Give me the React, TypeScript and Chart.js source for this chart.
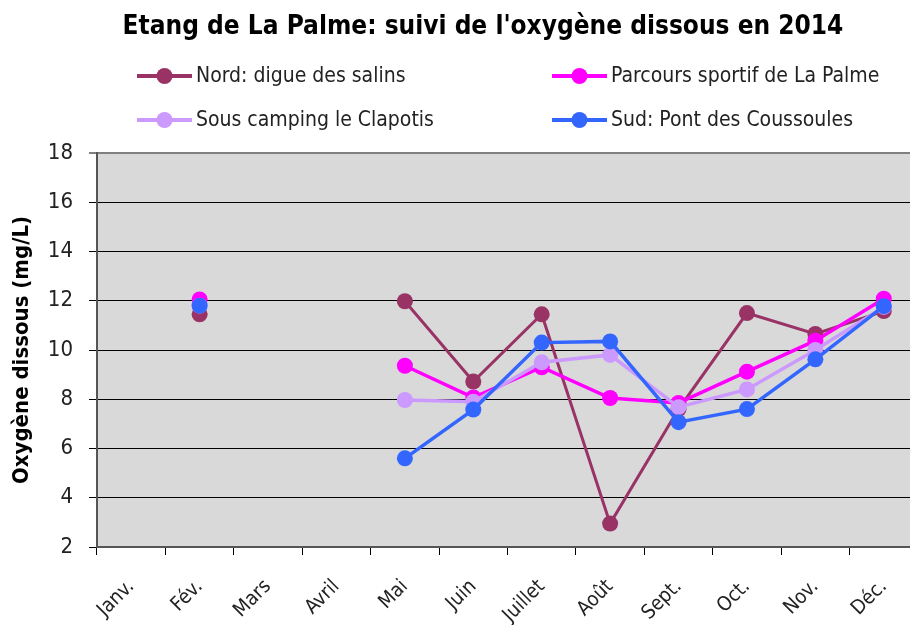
import React, { useEffect, useRef } from "react";
import { Chart, registerables } from "chart.js";

Chart.register(...registerables);

const chartTitle = "Etang de La Palme: suivi de l'oxygène dissous en 2014";
const yAxisTitle = "Oxygène dissous (mg/L)";
const months = ["Janv.", "Fév.", "Mars", "Avril", "Mai", "Juin", "Juillet", "Août", "Sept.", "Oct.", "Nov.", "Déc."];
const seriesNames = ["Nord: digue des salins", "Parcours sportif de La Palme", "Sous camping le Clapotis", "Sud: Pont des Coussoules"];
const seriesColors = ["#993366", "#FF00FF", "#CC99FF", "#3366FF"];
const nord = [null, 11.45, null, null, 11.98, 8.72, 11.45, 2.95, 7.6, 11.5, 10.65, 11.58];
const parcours = [null, 12.05, null, null, 9.36, 8.07, 9.3, 8.05, 7.85, 9.12, 10.38, 12.08];
const camping = [null, 11.8, null, null, 7.97, 7.9, 9.5, 9.8, 7.68, 8.4, 10.0, 11.75];
const sud = [null, 11.8, null, null, 5.6, 7.58, 10.3, 10.35, 7.07, 7.6, 9.62, 11.78];
const yMin = 2;
const yMax = 18;
const yStep = 2;

const narrow = "'DejaVu Sans Condensed', 'Liberation Sans Narrow', sans-serif";

const bgPlugin = {
  id: "plotBg",
  beforeDraw(chart: any) {
    const { ctx, chartArea } = chart;
    ctx.save();
    ctx.fillStyle = "#D9D9D9";
    ctx.fillRect(chartArea.left, chartArea.top, chartArea.right - chartArea.left, chartArea.bottom - chartArea.top);
    ctx.restore();
  },
};

const headerPlugin = {
  id: "header",
  afterDraw(chart: any) {
    const { ctx } = chart;
    ctx.save();
    ctx.fillStyle = "#000";
    ctx.font = `bold 26px ${narrow}`;
    ctx.textAlign = "center";
    ctx.textBaseline = "middle";
    ctx.fillText(chartTitle, 483, 27);

    const cols = [137, 552];
    const rows = [76, 120];
    chart.data.datasets.forEach((ds: any, i: number) => {
      const x0 = cols[i % 2];
      const y = rows[Math.floor(i / 2)];
      ctx.strokeStyle = ds.borderColor;
      ctx.lineWidth = 4;
      ctx.beginPath();
      ctx.moveTo(x0, y);
      ctx.lineTo(x0 + 55, y);
      ctx.stroke();
      ctx.fillStyle = ds.borderColor;
      ctx.beginPath();
      ctx.arc(x0 + 27.5, y, 8, 0, Math.PI * 2);
      ctx.fill();
      ctx.fillStyle = "#222";
      ctx.font = `21px ${narrow}`;
      ctx.textAlign = "left";
      ctx.textBaseline = "middle";
      ctx.fillText(ds.label, x0 + 59, y + 1);
    });
    ctx.restore();
  },
};

export default function App() {
  const ref = useRef<HTMLCanvasElement>(null);
  useEffect(() => {
    if (!ref.current) return;
    const values = [nord, parcours, camping, sud];
    const chart = new Chart(ref.current, {
      type: "line",
      data: {
        labels: months,
        datasets: values.map((v, i) => ({
          label: seriesNames[i],
          data: v,
          order: values.length - i,
          borderColor: seriesColors[i],
          backgroundColor: seriesColors[i],
          pointBackgroundColor: seriesColors[i],
          pointBorderColor: seriesColors[i],
          borderWidth: i === 0 ? 3 : 3.5,
          pointRadius: 8,
          pointBorderWidth: 0,
          spanGaps: false,
          tension: 0,
        })),
      },
      options: {
        animation: false,
        responsive: false,
        events: [],
        layout: { padding: { top: 153, left: 0, right: 12, bottom: 0 } },
        plugins: {
          legend: { display: false },
          title: { display: false },
          tooltip: { enabled: false },
        },
        scales: {
          x: {
            offset: true,
            grid: { offset: true, drawOnChartArea: false, drawTicks: true, tickLength: 8, color: "#000" },
            border: { color: "#555", width: 2 },
            ticks: {
              autoSkip: false,
              minRotation: 45,
              maxRotation: 45,
              padding: 20,
              color: "#222",
              font: { family: narrow, size: 20 },
            },
            afterFit: (s: any) => {
              s.height = 78;
            },
          },
          y: {
            min: yMin,
            max: yMax,
            ticks: {
              stepSize: yStep,
              padding: 16,
              color: "#222",
              font: { family: narrow, size: 22 },
            },
            grid: {
              tickLength: 8,
              color: (c: any) => (c.tick && c.tick.value === yMax ? "#808080" : "#000"),
              lineWidth: (c: any) => (c.tick && c.tick.value === yMax ? 2 : 1),
            },
            border: { color: "#555", width: 2 },
            title: {
              display: true,
              text: yAxisTitle,
              color: "#000",
              font: { family: narrow, size: 22, weight: "bold" },
              padding: { top: 9, bottom: 0 },
            },
            afterFit: (s: any) => {
              s.width = 97;
            },
          },
        },
      },
      plugins: [bgPlugin, headerPlugin],
    });
    return () => chart.destroy();
  }, []);
  return (
    <div style={{ position: "absolute", left: 0, top: 0, width: 910, height: 625, overflow: "hidden", background: "#fff" }}>
      <canvas ref={ref} width={930} height={625} style={{ display: "block" }} />
    </div>
  );
}
